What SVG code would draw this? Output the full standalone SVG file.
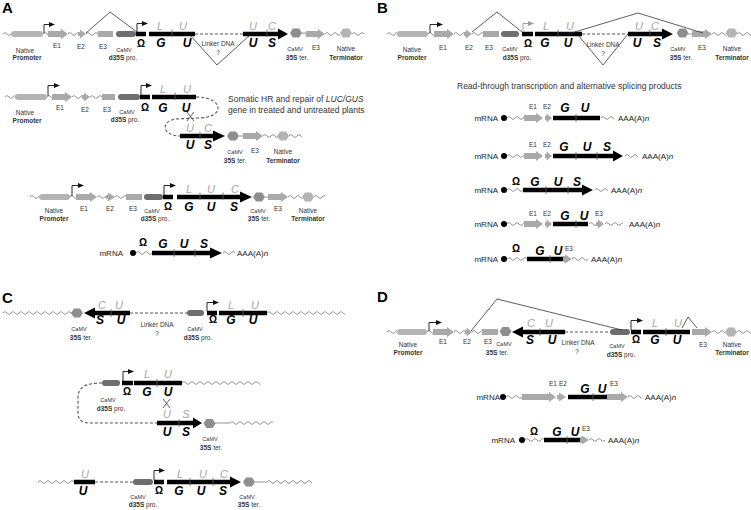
<svg xmlns="http://www.w3.org/2000/svg" xmlns:xlink="http://www.w3.org/1999/xlink" width="751" height="510" viewBox="0 0 751 510">
<defs>
<style>
.w{fill:none;stroke:#888;stroke-width:0.9}
.dl{fill:none;stroke:#555;stroke-width:1.1;stroke-dasharray:3 2}
.k{fill:#000}
.pr{fill:#b4b4b4}
.ex{fill:#a9a9a9}
.d3{fill:#6e6e6e}
.tr{fill:#8e8e8e}
.nt{fill:#b4b4b4}
.tk{stroke:#666;stroke-width:0.8}
.sp{fill:none;stroke:#333;stroke-width:0.8}
.ln{fill:none;stroke:#888;stroke-width:0.9}
.ts{fill:none;stroke:#111;stroke-width:0.9;marker-end:url(#ah)}
.tsg{fill:none;stroke:#999;stroke-width:0.9;marker-end:url(#ahg)}
text{font-family:"Liberation Sans",Arial,sans-serif}
.s{font-size:6.5px;fill:#333;text-anchor:middle}
.c{font-size:5.5px;fill:#333;text-anchor:middle}
.b{font-weight:bold}
.g{font-size:11px;font-style:italic;fill:#a6a6a6;text-anchor:middle}
.L{font-size:12px;font-style:italic;font-weight:bold;text-anchor:middle}
.o{font-size:10px;font-weight:bold;text-anchor:middle}
.m{font-size:8px;fill:#222}
.me{font-size:8px;fill:#222;text-anchor:end}
.t{font-size:8.5px;fill:#333}
.P{font-size:15px;font-weight:bold}
</style>
<marker id="ah" markerWidth="6" markerHeight="6" refX="5" refY="3" orient="auto" markerUnits="userSpaceOnUse"><path d="M0,0.6 L6,3 L0,5.4z" fill="#111"/></marker>
<marker id="ahg" markerWidth="6" markerHeight="6" refX="5" refY="3" orient="auto" markerUnits="userSpaceOnUse"><path d="M0,0.6 L6,3 L0,5.4z" fill="#999"/></marker>
<path id="hx" d="M-6,0 L-3,-4.5 L3,-4.5 L6,0 L3,4.5 L-3,4.5Z"/>
<symbol id="wv" overflow="hidden"><path class="w" d="M0,4 q2,-3 4,0 t4,0t4,0t4,0t4,0t4,0t4,0t4,0t4,0t4,0t4,0t4,0t4,0t4,0t4,0t4,0t4,0t4,0t4,0t4,0t4,0t4,0t4,0t4,0t4,0t4,0t4,0t4,0t4,0t4,0"/></symbol>
</defs>
<rect width="751" height="510" fill="#fff"/>

<!-- Panel labels -->
<text class="P" x="2" y="13">A</text>
<text class="P" x="377" y="13">B</text>
<text class="P" x="2" y="303">C</text>
<text class="P" x="377" y="302">D</text>

<!-- ============ PANEL A ============ -->
<g id="A-row1">
<use href="#wv" x="3" y="30" width="8" height="8"/>
<use href="#wv" x="43" y="30" width="5" height="8"/>
<use href="#wv" x="68" y="30" width="10" height="8"/>
<use href="#wv" x="86" y="30" width="12" height="8"/>
<use href="#wv" x="302" y="30" width="4" height="8"/>
<use href="#wv" x="325" y="30" width="15" height="8"/>
<use href="#wv" x="352" y="30" width="12" height="8"/>
<rect class="pr" x="11" y="31" width="32" height="6" rx="3"/>
<path class="ts" d="M44,33 V24.5 H54"/>
<polygon class="ex" points="48,31 61,31 61,29 68,34 61,39 61,37 48,37"/>
<polygon class="ex" points="78,32 80,32 80,29.5 86,34 80,38.5 80,36 78,36"/>
<rect class="ex" x="98" y="31" width="15" height="6"/>
<rect class="d3" x="116" y="31" width="20" height="6" rx="3"/>
<rect class="k" x="136" y="31.75" width="10" height="4.5"/>
<path class="ts" d="M137,32 V23.5 H147"/>
<rect class="k" x="149" y="31.75" width="46" height="4.5"/>
<line class="tk" x1="172" y1="29.5" x2="172" y2="37"/>
<polygon class="k" points="243,31.75 278,31.75 278,28.5 288,34 278,39.5 278,36.25 243,36.25"/>
<line class="tk" x1="267" y1="29.5" x2="267" y2="37"/>
<use href="#hx" class="tr" x="296" y="33"/>
<polygon class="ex" points="306,31 318,31 318,29 325,34 318,39 318,37 306,37"/>
<use href="#hx" class="nt" x="346" y="33"/>
<text class="g" x="160" y="29.5">L</text><text class="g" x="183" y="29.5">U</text>
<text class="g" x="253" y="29.5">U</text><text class="g" x="272" y="29.5">C</text>
<text class="o" x="141" y="46.5">Ω</text>
<text class="L" x="161" y="47">G</text><text class="L" x="187" y="47">U</text>
<text class="L" x="253" y="47">U</text><text class="L" x="272" y="47">S</text>
<text class="s" x="25" y="52.5">Native</text><text class="s b" x="27" y="60">Promoter</text>
<text class="s" x="57" y="48">E1</text><text class="s" x="81" y="49">E2</text><text class="s" x="103" y="49">E3</text>
<text class="c" x="124" y="51.5">CaMV</text><text class="s" x="123" y="60"><tspan class="b">d35S</tspan> pro.</text>
<text class="c" x="295" y="51">CaMV</text><text class="s" x="297" y="60"><tspan class="b">35S</tspan> ter.</text>
<text class="s" x="316" y="50">E3</text>
<text class="s" x="346" y="51">Native</text><text class="s b" x="346" y="60">Terminator</text>
<text class="s" x="218" y="46">Linker DNA</text><text class="s" x="218" y="55">?</text>
</g>

<g id="A-row2">
<use href="#wv" x="5" y="93" width="10" height="8"/>
<use href="#wv" x="47" y="93" width="5" height="8"/>
<use href="#wv" x="72" y="93" width="10" height="8"/>
<use href="#wv" x="90" y="93" width="12" height="8"/>
<rect class="pr" x="15" y="94" width="32" height="6" rx="3"/>
<path class="ts" d="M48,96 V85.5 H59"/>
<polygon class="ex" points="52,94 65,94 65,92 72,97 65,102 65,100 52,100"/>
<polygon class="ex" points="82,95 84,95 84,92.5 90,97 84,101.5 84,99 82,99"/>
<rect class="ex" x="102" y="94" width="13" height="6"/>
<rect class="d3" x="118" y="94" width="22" height="6" rx="3"/>
<rect class="k" x="140" y="94.75" width="10" height="4.5"/>
<path class="ts" d="M141,95 V85.5 H151"/>
<rect class="k" x="152" y="94.75" width="44" height="4.5"/>
<line class="tk" x1="175" y1="92.5" x2="175" y2="100"/>
<text class="g" x="163" y="92.5">L</text><text class="g" x="187" y="92.5">U</text>
<text class="o" x="145" y="111">Ω</text>
<text class="L" x="163" y="111.5">G</text><text class="L" x="186" y="111.5">U</text>
<text class="s" x="25" y="115">Native</text><text class="s b" x="27" y="122.5">Promoter</text>
<text class="s" x="60" y="110">E1</text><text class="s" x="85" y="112">E2</text><text class="s" x="107" y="112">E3</text>
<text class="c" x="127" y="114">CaMV</text><text class="s" x="125" y="122"><tspan class="b">d35S</tspan> pro.</text>
</g>

<g id="A-row3">
<polygon class="k" points="180,133.75 213,133.75 213,130.5 225,136 213,141.5 213,138.25 180,138.25"/>
<line class="tk" x1="200" y1="131.5" x2="200" y2="139"/>
<use href="#hx" class="tr" x="233" y="136"/>
<line class="ln" x1="239" y1="136" x2="243" y2="136"/>
<polygon class="ex" points="243,133 256,133 256,131 263,136 256,141 256,139 243,139"/>
<use href="#wv" x="263" y="132" width="15" height="8"/>
<use href="#hx" class="nt" x="283" y="136"/>
<use href="#wv" x="289" y="132" width="13" height="8"/>
<text class="g" x="190" y="131.5">U</text><text class="g" x="208" y="131.5">C</text>
<text class="L" x="190" y="149">U</text><text class="L" x="208" y="149">S</text>
<text class="c" x="235" y="154">CaMV</text><text class="s" x="235" y="163"><tspan class="b">35S</tspan> ter.</text>
<text class="s" x="255" y="153">E3</text>
<text class="s" x="283" y="154">Native</text><text class="s b" x="283" y="163">Terminator</text>
</g>

<g id="A-note">
<text class="t" x="228" y="102">Somatic HR and repair of <tspan font-style="italic">LUC/GUS</tspan></text>
<text class="t" x="228" y="113">gene in treated and untreated plants</text>
</g>

<g id="A-row4">
<use href="#wv" x="30" y="193" width="9" height="8"/>
<use href="#wv" x="70" y="193" width="6" height="8"/>
<use href="#wv" x="97" y="193" width="9" height="8"/>
<use href="#wv" x="115" y="193" width="11" height="8"/>
<use href="#wv" x="288" y="193" width="14" height="8"/>
<use href="#wv" x="314" y="193" width="11" height="8"/>
<rect class="pr" x="39" y="194" width="31" height="6" rx="3"/>
<path class="ts" d="M72,196 V185.5 H83"/>
<polygon class="ex" points="76,194 90,194 90,192 97,197 90,202 90,200 76,200"/>
<polygon class="ex" points="106,195 108,195 108,192.5 115,197 108,201.5 108,199 106,199"/>
<rect class="ex" x="126" y="194" width="16" height="6"/>
<rect class="d3" x="144" y="194" width="19" height="6" rx="3"/>
<rect class="k" x="163" y="194.75" width="10" height="4.5"/>
<path class="ts" d="M164,195 V185.5 H175"/>
<polygon class="k" points="177,194.75 240,194.75 240,191.5 252,197 240,202.5 240,199.25 177,199.25"/>
<line class="tk" x1="200" y1="192.5" x2="200" y2="200"/>
<line class="tk" x1="223" y1="192.5" x2="223" y2="200"/>
<use href="#hx" class="tr" x="259" y="197"/>
<line class="ln" x1="265" y1="197" x2="268" y2="197"/>
<polygon class="ex" points="268,194 281,194 281,192 288,197 281,202 281,200 268,200"/>
<use href="#hx" class="nt" x="308" y="197"/>
<text class="g" x="189" y="192.5">L</text><text class="g" x="211" y="192.5">U</text><text class="g" x="235" y="192.5">C</text>
<text class="o" x="168" y="210">Ω</text>
<text class="L" x="189" y="210.5">G</text><text class="L" x="211" y="210.5">U</text><text class="L" x="234" y="210.5">S</text>
<text class="s" x="54" y="213">Native</text><text class="s b" x="54" y="221">Promoter</text>
<text class="s" x="84" y="211">E1</text><text class="s" x="110" y="211">E2</text><text class="s" x="133" y="211">E3</text>
<text class="c" x="152" y="212.5">CaMV</text><text class="s" x="155" y="221"><tspan class="b">d35S</tspan> pro.</text>
<text class="c" x="258" y="213">CaMV</text><text class="s" x="259" y="221"><tspan class="b">35S</tspan> ter.</text>
<text class="s" x="278" y="211">E3</text>
<text class="s" x="308" y="212.5">Native</text><text class="s b" x="308" y="221">Terminator</text>
</g>

<g id="A-mRNA">
<text class="me" x="123" y="256">mRNA</text>
<circle cx="133" cy="253" r="3" fill="#000"/>
<use href="#wv" x="136" y="249" width="16" height="8"/>
<polygon class="k" points="152,250.75 210,250.75 210,247.5 222,253 210,258.5 210,255.25 152,255.25"/>
<line class="tk" x1="174" y1="249" x2="174" y2="257"/>
<line class="tk" x1="195" y1="249" x2="195" y2="257"/>
<use href="#wv" x="223" y="249" width="12" height="8"/>
<text class="o" x="143" y="246">Ω</text>
<text class="L" x="163" y="248">G</text><text class="L" x="184" y="248">U</text><text class="L" x="204" y="248">S</text>
<text class="m" x="237" y="256">AAA(A)<tspan font-style="italic">n</tspan></text>
</g>

<!-- ============ PANEL B ============ -->
<g id="B-row1">
<use href="#wv" x="387" y="30" width="10" height="8"/>
<use href="#wv" x="428" y="30" width="6" height="8"/>
<use href="#wv" x="454" y="30" width="10" height="8"/>
<use href="#wv" x="472" y="30" width="11" height="8"/>
<use href="#wv" x="712" y="30" width="14" height="8"/>
<use href="#wv" x="737" y="30" width="14" height="8"/>
<rect class="pr" x="397" y="31" width="31" height="6" rx="3"/>
<path class="ts" d="M430,33 V24.5 H442"/>
<polygon class="ex" points="434,31 447,31 447,29 454,34 447,39 447,37 434,37"/>
<polygon class="ex" points="464,32 466,32 466,29.5 472,34 466,38.5 466,36 464,36"/>
<rect class="ex" x="483" y="31" width="16" height="6"/>
<rect class="d3" x="501" y="31" width="18" height="6" rx="3"/>
<rect class="k" x="522" y="31.75" width="11" height="4.5"/>
<path class="tsg" d="M523,32 V23.5 H533"/>
<rect class="k" x="535" y="31.75" width="47" height="4.5"/>
<line class="tk" x1="558" y1="29.5" x2="558" y2="37"/>
<polygon class="k" points="628,31.75 662,31.75 662,28.5 673,34 662,39.5 662,36.25 628,36.25"/>
<line class="tk" x1="650" y1="29.5" x2="650" y2="37"/>
<use href="#hx" class="tr" x="682.5" y="33"/>
<line class="ln" x1="688" y1="34" x2="692" y2="34"/>
<polygon class="ex" points="692,31 705,31 705,29 712,34 705,39 705,37 692,37"/>
<use href="#hx" class="nt" x="731.5" y="33"/>
<text class="g" x="546" y="29.5">L</text><text class="g" x="570" y="29.5">U</text>
<text class="g" x="639" y="29.5">U</text><text class="g" x="655" y="29.5">C</text>
<text class="o" x="528" y="46.5">Ω</text>
<text class="L" x="545" y="47">G</text><text class="L" x="568" y="47">U</text>
<text class="L" x="637" y="47">U</text><text class="L" x="657" y="47">S</text>
<text class="s" x="412" y="52">Native</text><text class="s b" x="412" y="60">Promoter</text>
<text class="s" x="443" y="50">E1</text><text class="s" x="469" y="50">E2</text><text class="s" x="489" y="50">E3</text>
<text class="c" x="510" y="51">CaMV</text><text class="s" x="517" y="60"><tspan class="b">d35S</tspan> pro.</text>
<text class="c" x="678" y="51">CaMV</text><text class="s" x="681" y="60"><tspan class="b">35S</tspan> ter.</text>
<text class="s" x="702" y="50">E3</text>
<text class="s" x="732" y="51">Native</text><text class="s b" x="732" y="60">Terminator</text>
<text class="s" x="603" y="47">Linker DNA</text><text class="s" x="603" y="56">?</text>
</g>

<g id="B-note">
<text class="t" x="457" y="89">Read-through transcription and alternative splicing products</text>
</g>

<g id="B-mRNA1">
<text class="me" x="498" y="121">mRNA</text>
<circle cx="504" cy="118" r="3" fill="#000"/>
<use href="#wv" x="507" y="114" width="17" height="8"/>
<polygon class="ex" points="524,115 536,115 536,113 543,118 536,123 536,121 524,121"/>
<polygon class="ex" points="545,116 546.5,116 546.5,113.5 552,118 546.5,122.5 546.5,120 545,120"/>
<rect class="k" x="553" y="115.75" width="47" height="4.5"/>
<line class="tk" x1="576" y1="114" x2="576" y2="122"/>
<use href="#wv" x="601" y="114" width="13" height="8"/>
<text class="s" x="533" y="109">E1</text><text class="s" x="547" y="109">E2</text>
<text class="L" x="565" y="112">G</text><text class="L" x="585" y="112">U</text>
<text class="m" x="618" y="121">AAA(A)<tspan font-style="italic">n</tspan></text>
</g>

<g id="B-mRNA2">
<text class="me" x="498" y="159">mRNA</text>
<circle cx="504" cy="156" r="3" fill="#000"/>
<use href="#wv" x="507" y="152" width="17" height="8"/>
<polygon class="ex" points="524,153 536,153 536,151 543,156 536,161 536,159 524,159"/>
<polygon class="ex" points="545,154 546.5,154 546.5,151.5 552,156 546.5,160.5 546.5,158 545,158"/>
<polygon class="k" points="553,153.75 613,153.75 613,150.5 623,156 613,161.5 613,158.25 553,158.25"/>
<line class="tk" x1="576" y1="152" x2="576" y2="160"/>
<line class="tk" x1="597" y1="152" x2="597" y2="160"/>
<use href="#wv" x="625" y="152" width="13" height="8"/>
<text class="s" x="533" y="147">E1</text><text class="s" x="547" y="147">E2</text>
<text class="L" x="564" y="151">G</text><text class="L" x="587" y="151">U</text><text class="L" x="607" y="151">S</text>
<text class="m" x="642" y="159">AAA(A)<tspan font-style="italic">n</tspan></text>
</g>

<g id="B-mRNA3">
<text class="me" x="498" y="193">mRNA</text>
<circle cx="504" cy="190" r="3" fill="#000"/>
<use href="#wv" x="507" y="186" width="16" height="8"/>
<polygon class="k" points="523,187.75 582,187.75 582,184.5 593,190 582,195.5 582,192.25 523,192.25"/>
<line class="tk" x1="546" y1="186" x2="546" y2="194"/>
<line class="tk" x1="568" y1="186" x2="568" y2="194"/>
<use href="#wv" x="595" y="186" width="13" height="8"/>
<text class="o" x="516" y="185">Ω</text>
<text class="L" x="535" y="186">G</text><text class="L" x="558" y="186">U</text><text class="L" x="577" y="186">S</text>
<text class="m" x="611" y="193">AAA(A)<tspan font-style="italic">n</tspan></text>
</g>

<g id="B-mRNA4">
<text class="me" x="498" y="227">mRNA</text>
<circle cx="504" cy="224" r="3" fill="#000"/>
<use href="#wv" x="507" y="220" width="17" height="8"/>
<polygon class="ex" points="524,221 536,221 536,219 543,224 536,229 536,227 524,227"/>
<polygon class="ex" points="545,222 546.5,222 546.5,219.5 552,224 546.5,228.5 546.5,226 545,226"/>
<rect class="k" x="553" y="221.75" width="35" height="4.5"/>
<line class="tk" x1="576" y1="220" x2="576" y2="228"/>
<use href="#wv" x="589" y="220" width="7" height="8"/>
<polygon class="ex" points="596,222 598,222 598,219.5 604,224 598,228.5 598,226 596,226"/>
<use href="#wv" x="605" y="220" width="18" height="8"/>
<text class="s" x="533" y="216">E1</text><text class="s" x="547" y="216">E2</text><text class="s" x="599" y="216">E3</text>
<text class="L" x="565" y="220">G</text><text class="L" x="584" y="220">U</text>
<text class="m" x="629" y="227">AAA(A)<tspan font-style="italic">n</tspan></text>
</g>

<g id="B-mRNA5">
<text class="me" x="498" y="262">mRNA</text>
<circle cx="504" cy="259" r="3" fill="#000"/>
<use href="#wv" x="507" y="255" width="20" height="8"/>
<rect class="k" x="527" y="256.75" width="36" height="4.5"/>
<line class="tk" x1="550" y1="255" x2="550" y2="263"/>
<polygon class="ex" points="563,256 565,256 565,254.5 572,259 565,263.5 565,262 563,262"/>
<use href="#wv" x="572" y="255" width="16" height="8"/>
<text class="o" x="516" y="252">Ω</text>
<text class="L" x="540" y="255">G</text><text class="L" x="558" y="255">U</text>
<text class="s" x="569" y="251">E3</text>
<text class="m" x="591" y="262">AAA(A)<tspan font-style="italic">n</tspan></text>
</g>

<!-- ============ PANEL C ============ -->
<g id="C-row1">
<use href="#wv" x="3" y="309" width="69" height="8"/>
<use href="#wv" x="267" y="309" width="78" height="8"/>
<use href="#hx" class="tr" x="77" y="313"/>
<polygon class="k" points="130,310.75 95,310.75 95,307.5 84,313 95,318.5 95,315.25 130,315.25"/>
<line class="tk" x1="111" y1="309" x2="111" y2="317"/>
<rect class="d3" x="187" y="310" width="17" height="6" rx="3"/>
<rect class="k" x="207" y="310.75" width="10" height="4.5"/>
<path class="ts" d="M207,311 V302.5 H218"/>
<rect class="k" x="219" y="310.75" width="48" height="4.5"/>
<line class="tk" x1="243" y1="309" x2="243" y2="317"/>
<text class="g" x="102" y="309">C</text><text class="g" x="119" y="309">U</text>
<text class="g" x="231" y="309">L</text><text class="g" x="255" y="309">U</text>
<text class="L" x="100" y="324">S</text><text class="L" x="121" y="324">U</text>
<text class="o" x="213" y="323">Ω</text>
<text class="L" x="231" y="324">G</text><text class="L" x="253" y="324">U</text>
<text class="c" x="79" y="331">CaMV</text><text class="s" x="81" y="340"><tspan class="b">35S</tspan> ter.</text>
<text class="s" x="157" y="327">Linker DNA</text><text class="s" x="157" y="336">?</text>
<text class="c" x="195" y="331">CaMV</text><text class="s" x="198" y="340"><tspan class="b">d35S</tspan> pro.</text>
</g>

<g id="C-row2">
<rect class="d3" x="102" y="380" width="18" height="6" rx="3"/>
<rect class="k" x="122" y="380.75" width="11" height="4.5"/>
<path class="ts" d="M123,381 V371.5 H133"/>
<rect class="k" x="134" y="380.75" width="48" height="4.5"/>
<line class="tk" x1="157" y1="379" x2="157" y2="387"/>
<use href="#wv" x="182" y="379" width="78" height="8"/>
<text class="g" x="147" y="378">L</text><text class="g" x="168" y="378">U</text>
<text class="o" x="127" y="395">Ω</text>
<text class="L" x="147" y="395.5">G</text><text class="L" x="168" y="395.5">U</text>
<text class="c" x="108" y="402">CaMV</text><text class="s" x="111" y="411"><tspan class="b">d35S</tspan> pro.</text>
</g>

<g id="C-row3">
<polygon class="k" points="157,420.75 193,420.75 193,417.5 202,423 193,428.5 193,425.25 157,425.25"/>
<line class="tk" x1="179" y1="419" x2="179" y2="427"/>
<use href="#hx" class="tr" x="209.5" y="423.5"/>
<line class="ln" x1="215" y1="423" x2="230" y2="423"/>
<use href="#wv" x="230" y="419" width="43" height="8"/>
<text class="g" x="167" y="418">U</text><text class="g" x="186" y="418">S</text>
<text class="L" x="167" y="435.5">U</text><text class="L" x="186" y="435.5">S</text>
<text class="c" x="210" y="441">CaMV</text><text class="s" x="211" y="450"><tspan class="b">35S</tspan> ter.</text>
</g>

<g id="C-row4">
<use href="#wv" x="38" y="478" width="36" height="8"/>
<rect class="k" x="74" y="479.75" width="21" height="4.5"/>
<rect class="d3" x="133" y="479" width="20" height="6" rx="3"/>
<rect class="k" x="154" y="479.75" width="10" height="4.5"/>
<path class="ts" d="M154,480 V470.5 H164"/>
<polygon class="k" points="167,479.75 230,479.75 230,476.5 241,482 230,487.5 230,484.25 167,484.25"/>
<line class="tk" x1="190" y1="478" x2="190" y2="486"/>
<line class="tk" x1="213" y1="478" x2="213" y2="486"/>
<use href="#hx" class="tr" x="249" y="482"/>
<line class="ln" x1="255" y1="482" x2="267" y2="482"/>
<use href="#wv" x="267" y="478" width="45" height="8"/>
<text class="g" x="85" y="477.5">U</text>
<text class="g" x="180" y="477.5">L</text><text class="g" x="203" y="477.5">U</text><text class="g" x="224" y="477.5">C</text>
<text class="L" x="83" y="495">U</text>
<text class="o" x="159" y="494">Ω</text>
<text class="L" x="179" y="495">G</text><text class="L" x="201" y="495">U</text><text class="L" x="223" y="495">S</text>
<text class="c" x="138" y="499">CaMV</text><text class="s" x="143" y="507"><tspan class="b">d35S</tspan> pro.</text>
<text class="c" x="247" y="499">CaMV</text><text class="s" x="249" y="507"><tspan class="b">35S</tspan> ter.</text>
</g>

<!-- ============ PANEL D ============ -->
<g id="D-row1">
<use href="#wv" x="387" y="328" width="10" height="8"/>
<use href="#wv" x="427" y="328" width="6" height="8"/>
<use href="#wv" x="454" y="328" width="11" height="8"/>
<use href="#wv" x="472" y="328" width="10" height="8"/>
<use href="#wv" x="712" y="328" width="13" height="8"/>
<use href="#wv" x="737" y="328" width="14" height="8"/>
<rect class="pr" x="397" y="329" width="30" height="6" rx="3"/>
<path class="ts" d="M429,331 V322.5 H441"/>
<polygon class="ex" points="433,329 447,329 447,327 454,332 447,337 447,335 433,335"/>
<polygon class="ex" points="465,330 466.5,330 466.5,327.5 472,332 466.5,336.5 466.5,334 465,334"/>
<rect class="ex" x="482" y="329" width="16" height="6"/>
<use href="#hx" class="tr" x="505.5" y="331.5"/>
<polygon class="k" points="565,329.75 523,329.75 523,326.5 512,332 523,337.5 523,334.25 565,334.25"/>
<line class="tk" x1="540" y1="328" x2="540" y2="336"/>
<rect class="d3" x="610" y="329" width="20" height="6" rx="3"/>
<rect class="k" x="631" y="329.75" width="10" height="4.5"/>
<path class="ts" d="M631,330 V320.5 H642"/>
<rect class="k" x="643" y="329.75" width="47" height="4.5"/>
<line class="tk" x1="666" y1="328" x2="666" y2="336"/>
<polygon class="ex" points="692,329 705,329 705,327 712,332 705,337 705,335 692,335"/>
<use href="#hx" class="nt" x="731" y="332"/>
<text class="g" x="531" y="327">C</text><text class="g" x="549" y="327">U</text>
<text class="g" x="655" y="327">L</text><text class="g" x="678" y="327">U</text>
<text class="L" x="530" y="344">S</text><text class="L" x="552" y="344">U</text>
<text class="o" x="636" y="343">Ω</text>
<text class="L" x="655" y="344">G</text><text class="L" x="677" y="344">U</text>
<text class="s" x="408" y="347">Native</text><text class="s b" x="408" y="355">Promoter</text>
<text class="s" x="443" y="344">E1</text><text class="s" x="467" y="344">E2</text><text class="s" x="488" y="344">E3</text>
<text class="c" x="504" y="346">CaMV</text><text class="s" x="497" y="355"><tspan class="b">35S</tspan> ter.</text>
<text class="s" x="578" y="345">Linker DNA</text><text class="s" x="577" y="354">?</text>
<text class="c" x="617" y="348">CaMV</text><text class="s" x="621" y="357"><tspan class="b">d35S</tspan> pro.</text>
<text class="s" x="703" y="347">E3</text>
<text class="s" x="732" y="347">Native</text><text class="s b" x="732" y="355">Terminator</text>
</g>

<g id="D-mRNA1">
<text class="me" x="500" y="400">mRNA</text>
<circle cx="503" cy="397" r="3" fill="#000"/>
<use href="#wv" x="506" y="393" width="16" height="8"/>
<polygon class="ex" points="522,394 549,394 549,392 556,397 549,402 549,400 522,400"/>
<polygon class="ex" points="557,395 559,395 559,392.5 566,397 559,401.5 559,399 557,399"/>
<rect class="k" x="568" y="394.75" width="39" height="4.5"/>
<line class="tk" x1="593" y1="393" x2="593" y2="401"/>
<polygon class="ex" points="607,394 621,394 621,392 628,397 621,402 621,400 607,400"/>
<use href="#wv" x="628" y="393" width="14" height="8"/>
<text class="s" x="553" y="386">E1</text><text class="s" x="563" y="386">E2</text>
<text class="L" x="585" y="393">G</text><text class="L" x="602" y="393">U</text>
<text class="s" x="614" y="386">E3</text>
<text class="m" x="645" y="400">AAA(A)<tspan font-style="italic">n</tspan></text>
</g>

<g id="D-mRNA2">
<text class="me" x="515" y="443">mRNA</text>
<circle cx="522" cy="440" r="3" fill="#000"/>
<use href="#wv" x="525" y="436" width="19" height="8"/>
<rect class="k" x="544" y="437.75" width="36" height="4.5"/>
<line class="tk" x1="567" y1="436" x2="567" y2="444"/>
<polygon class="ex" points="580,437 582,437 582,435.5 589,440 582,444.5 582,443 580,443"/>
<use href="#wv" x="589" y="436" width="16" height="8"/>
<text class="o" x="534" y="435">Ω</text>
<text class="L" x="557" y="436">G</text><text class="L" x="575" y="436">U</text>
<text class="s" x="586" y="431">E3</text>
<text class="m" x="608" y="443">AAA(A)<tspan font-style="italic">n</tspan></text>
</g>

<!-- ============ CONNECTORS ============ -->
<g id="connectors">
<polyline class="sp" points="86,33 110,12 137,32"/>
<polyline class="sp" points="190,35 217,65 250,35"/>
<line class="dl" x1="195" y1="34" x2="243" y2="34"/>
<path class="dl" d="M196,97 C224,97 226,118 198,118 L176,119 C160,121 162,136 180,136"/>
<path class="sp" d="M187,112 L194,121 M194,112 L187,121"/>
<polyline class="sp" points="472,32 497,12 522,32"/>
<polyline class="sp" points="568,34 638,13 703,33"/>
<polyline class="sp" points="578,35 603,65 628,34"/>
<line class="dl" x1="582" y1="34" x2="628" y2="34"/>
<line class="dl" x1="130" y1="313" x2="187" y2="313"/>
<path class="dl" d="M102,383 C84,383 78,388 78,398 L78,413 C78,420 82,423 90,423 L157,423"/>
<path class="sp" d="M163,399 L170,408 M170,399 L163,408"/>
<line class="dl" x1="95" y1="482" x2="133" y2="482"/>
<line class="dl" x1="565" y1="332" x2="610" y2="332"/>
<polyline class="sp" points="471,331 497,299 622,330"/>
<polyline class="sp" points="682,328 688,317 697,328"/>
</g>
</svg>
